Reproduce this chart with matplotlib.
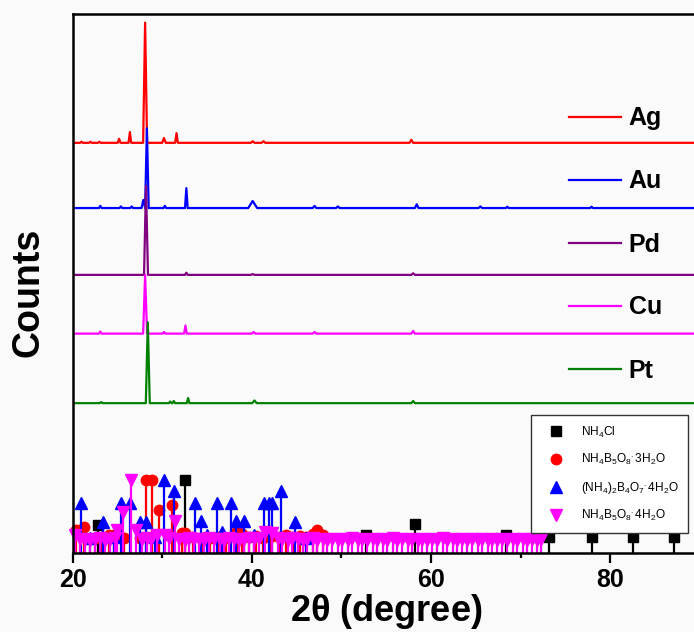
import matplotlib
matplotlib.use('Agg')
import matplotlib.pyplot as plt
from matplotlib.lines import Line2D

plt.rcParams['font.family'] = ['Liberation Sans', 'DejaVu Sans']
plt.rcParams['mathtext.fontset'] = 'custom'
plt.rcParams['mathtext.rm'] = 'Liberation Sans'
plt.rcParams['mathtext.it'] = 'Liberation Sans'

# sample traces: offset, then (2theta, height, half width) for each peak
SAMPLES = ['Ag', 'Au', 'Pd', 'Cu', 'Pt']
COLORS = ['#ff0000', '#0000ff', '#800080', '#ff00ff', '#008000']
OFFSETS = [76.1, 64.0, 51.6, 40.7, 27.8]

ag_peaks = [(21.0, 0.2, 0.15), (22.0, 0.2, 0.15), (23.0, 0.2, 0.15), (25.2, 0.75, 0.15),
            (26.4, 2.0, 0.15), (28.1, 22.3, 0.22), (30.2, 0.9, 0.2), (31.6, 1.8, 0.15),
            (40.1, 0.3, 0.2), (41.3, 0.3, 0.2), (57.8, 0.55, 0.2)]
au_peaks = [(23.1, 0.4, 0.15), (25.4, 0.3, 0.15), (26.6, 0.3, 0.15), (27.9, 1.5, 0.2),
            (28.3, 14.8, 0.2), (30.3, 0.4, 0.15), (32.7, 3.7, 0.15), (40.1, 1.3, 0.5),
            (47.0, 0.4, 0.2), (49.6, 0.3, 0.2), (58.4, 0.7, 0.2), (65.5, 0.3, 0.2),
            (68.5, 0.25, 0.15), (77.9, 0.25, 0.15)]
pd_peaks = [(28.2, 16.5, 0.22), (32.7, 0.4, 0.15), (40.1, 0.15, 0.2), (58.0, 0.3, 0.2)]
cu_peaks = [(23.1, 0.4, 0.15), (28.1, 10.9, 0.22), (30.2, 0.3, 0.15), (32.6, 1.5, 0.15),
            (40.2, 0.3, 0.2), (47.0, 0.3, 0.2), (58.0, 0.5, 0.2)]
pt_peaks = [(23.2, 0.2, 0.15), (28.4, 15.0, 0.22), (30.9, 0.3, 0.15), (31.3, 0.4, 0.15),
            (32.9, 0.95, 0.15), (40.3, 0.5, 0.25), (58.0, 0.4, 0.2)]
PEAKS = [ag_peaks, au_peaks, pd_peaks, cu_peaks, pt_peaks]

# reference patterns: 2theta and relative intensity (%)
nh4cl_pos = [22.8, 32.6, 52.7, 58.2, 68.4, 73.2, 77.9, 82.5, 87.1]
nh4cl_int = [38, 100, 24, 39, 24, 22, 22, 22, 22]

b5_3h2o_pos = [20.4, 21.3, 22.5, 23.3, 24.1, 24.6, 25.8, 27.5, 28.2, 28.9, 29.7, 31.1,
               32.2, 32.6, 33.4, 34.5, 35.3, 36.2, 37.1, 38.3, 38.9, 39.7, 40.5, 41.3,
               42.0, 43.0, 43.8, 44.6, 45.4, 46.1, 46.8, 47.3, 47.9]
b5_3h2o_int = [32, 35, 20, 22, 24, 24, 20, 21, 100, 100, 59, 66,
               27, 27, 22, 21, 20, 22, 20, 30, 26, 22, 23, 21,
               22, 22, 24, 22, 23, 22, 26, 31, 25]

b4_pos = [20.9, 22.0, 23.4, 24.6, 25.4, 26.4, 27.5, 28.2, 29.2, 30.2, 31.3, 33.7, 34.3,
          35.0, 36.1, 36.7, 37.7, 38.2, 39.1, 40.3, 41.4, 41.9, 42.3, 43.3, 44.8, 46.0]
b4_int = [68, 20, 42, 22, 68, 68, 42, 42, 22, 100, 84, 68, 43,
          25, 68, 29, 68, 43, 43, 24, 68, 68, 68, 84, 42, 20]

b5_4h2o_pos = [20.3, 20.8, 21.4, 21.9, 22.5, 23.1, 23.6, 24.2, 24.7, 25.0, 25.6, 26.5,
               27.1, 27.7, 28.3, 28.8, 29.4, 30.3, 30.8, 31.4, 31.9, 32.5, 33.0, 33.6,
               34.1, 34.7, 35.2, 35.8, 36.4, 36.9, 37.5, 38.0, 38.6, 39.1, 39.7, 40.2,
               40.8, 41.5, 42.3, 42.9, 43.4, 44.0, 44.5, 45.1, 45.7, 46.2, 46.8, 47.3,
               47.9, 48.4, 49.0, 49.6, 50.1, 50.7, 51.2, 51.8, 52.3, 52.9, 53.5, 54.0,
               54.6, 55.1, 55.7, 56.2, 56.8, 57.4, 57.9, 58.5, 59.0, 59.6, 60.1, 60.7,
               61.3, 61.8, 62.4, 62.9, 63.5, 64.0, 64.6, 65.2, 65.7, 66.3, 66.8, 67.4,
               67.9, 68.5, 69.1, 69.6, 70.2, 70.7, 71.3, 71.8, 72.3]
b5_4h2o_int = [24, 19, 19, 18, 19, 20, 18, 19, 21, 31, 56, 100,
               31, 19, 20, 19, 24, 24, 20, 44, 19, 18, 20, 19,
               19, 18, 20, 19, 19, 18, 20, 19, 18, 19, 20, 19,
               21, 28, 27, 20, 19, 18, 20, 19, 18, 19, 20, 18,
               19, 18, 19, 18, 19, 18, 20, 18, 19, 18, 19, 18,
               19, 18, 20, 18, 19, 18, 19, 18, 19, 18, 19, 18,
               20, 18, 19, 18, 19, 18, 19, 18, 19, 18, 19, 18,
               19, 18, 19, 18, 19, 18, 19, 18, 19]

REF_SCALE = 13.6  # height of a 100 % line in axis units

REFS = [
    (nh4cl_pos, nh4cl_int, 'k', 's', 6.5, r'NH$_\mathregular{4}$Cl'),
    (b5_3h2o_pos, b5_3h2o_int, '#ff0000', 'o', 7.5, r'NH$_\mathregular{4}$B$_\mathregular{5}$O$_\mathregular{8}$$^{\mathregular{.}}$3H$_\mathregular{2}$O'),
    (b4_pos, b4_int, '#0000ff', '^', 8, r'(NH$_\mathregular{4}$)$_\mathregular{2}$B$_\mathregular{4}$O$_\mathregular{7}$$^{\mathregular{.}}$4H$_\mathregular{2}$O'),
    (b5_4h2o_pos, b5_4h2o_int, '#ff00ff', 'v', 8, r'NH$_\mathregular{4}$B$_\mathregular{5}$O$_\mathregular{8}$$^{\mathregular{.}}$4H$_\mathregular{2}$O'),
]


def trace(offset, peaks, x0=20.0, x1=90.0):
    # piecewise baseline with a triangular spike at every listed peak
    xs, ys = [x0], [offset]
    for pos, h, w in peaks:
        xs += [pos - w, pos, pos + w]
        ys += [offset, offset + h, offset]
    xs.append(x1)
    ys.append(offset)
    return xs, ys


fig = plt.figure(figsize=(6.94, 6.32), dpi=100, facecolor='#fafafa')
ax = fig.add_axes([72.5 / 694, 1 - 553 / 632, (700 - 72.5) / 694, 539 / 632])
ax.set_facecolor('#fafafa')

lines = []
for name, color, off, pk in zip(SAMPLES, COLORS, OFFSETS, PEAKS):
    xs, ys = trace(off, pk)
    ln, = ax.plot(xs, ys, color=color, lw=1.6, label=name)
    lines.append(ln)

ref_handles = []
for pos, inten, color, mk, ms, lab in REFS:
    hts = [REF_SCALE * v / 100 for v in inten]
    ax.vlines(pos, 0, hts, color=color, lw=1.6)
    ax.plot(pos, hts, ls='none', marker=mk, color=color, markersize=ms, clip_on=False)
    ref_handles.append(Line2D([], [], ls='none', marker=mk, color=color,
                              markersize=ms, label=lab))

ax.set_xlim(20, 90)
ax.set_ylim(0, 100)
ax.set_xticks([20, 40, 60, 80])
ax.set_xticks([30, 50, 70], minor=True)
ax.set_yticks([])
ax.tick_params(axis='x', which='major', direction='out', length=7, width=1.6,
               labelsize=18, pad=4)
ax.tick_params(axis='x', which='minor', direction='out', length=3.5, width=1.6)
for lab in ax.get_xticklabels():
    lab.set_fontweight('bold')
for side in ['left', 'top', 'bottom']:
    ax.spines[side].set_linewidth(1.8)
ax.spines['right'].set_visible(False)

ax.set_xlabel(r'2$\mathregular{\theta}$ (degree)', fontsize=26, fontweight='bold', labelpad=0)
fig.text(28 / 694, 1 - 292 / 632, 'Counts', rotation=90, fontsize=27,
         fontweight='bold', ha='center', va='center')

leg1 = ax.legend(handles=lines, loc='upper left', bbox_to_anchor=(556 / 694, 1 - 94 / 632),
                 bbox_transform=fig.transFigure, frameon=False, borderpad=0,
                 handlelength=2.1, handletextpad=0.3, labelspacing=1.56,
                 prop={'size': 18, 'weight': 'bold'})
ax.add_artist(leg1)

ax.legend(handles=ref_handles, loc='upper right', bbox_to_anchor=(688 / 694, 1 - 415 / 632),
          bbox_transform=fig.transFigure, fancybox=False, edgecolor='#333333',
          framealpha=1, facecolor='white', borderaxespad=0, prop={'size': 8.6},
          labelspacing=1.05, handlelength=2.6, handletextpad=0.8, borderpad=0.8)

fig.savefig('out.png', dpi=100, facecolor=fig.get_facecolor())
